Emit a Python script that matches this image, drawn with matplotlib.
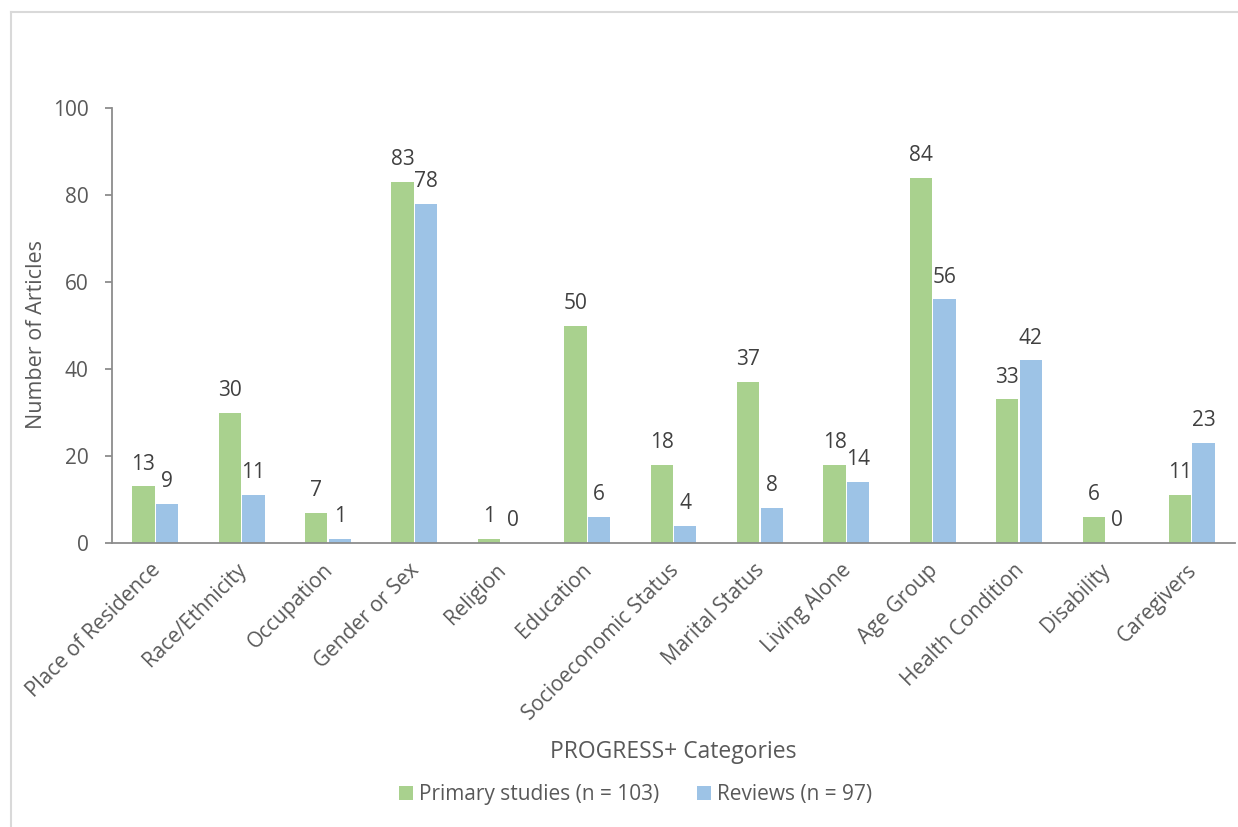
import matplotlib
matplotlib.use("Agg")
import matplotlib.pyplot as plt
import matplotlib.transforms as mtransforms
import numpy as np
from matplotlib.lines import Line2D
from matplotlib.patches import Patch

plt.rcParams['font.family'] = ['Open Sans', 'DejaVu Sans']

categories = ["Place of Residence", "Race/Ethnicity", "Occupation", "Gender or Sex",
              "Religion", "Education", "Socioeconomic Status", "Marital Status",
              "Living Alone", "Age Group", "Health Condition", "Disability", "Caregivers"]
primary = [13, 30, 7, 83, 1, 50, 18, 37, 18, 84, 33, 6, 11]
reviews = [9, 11, 1, 78, 0, 6, 4, 8, 14, 56, 42, 0, 23]
yticks = [0, 20, 40, 60, 80, 100]

green = "#A9D18E"
blue = "#9DC3E6"
axis_col = "#8C8C8C"
text_col = "#595959"
label_col = "#404040"
fs = 15

fig = plt.figure(figsize=(12.38, 8.27), dpi=100)
ax = fig.add_axes([0.0905, 0.3434, 0.9071, 0.526])

x = np.arange(len(categories))
w = 0.258
off = 0.136
b1 = ax.bar(x - off, primary, width=w, color=green, zorder=2)
b2 = ax.bar(x + off, reviews, width=w, color=blue, zorder=2)

for bars, vals in ((b1, primary), (b2, reviews)):
    for r, v in zip(bars, vals):
        ax.annotate(str(v), (r.get_x() + r.get_width() / 2, v),
                    xytext=(0, 8.5), textcoords="offset points",
                    ha="center", va="bottom", fontsize=fs, color=label_col)

ax.set_xlim(-0.5, len(categories) - 0.5)
ax.set_ylim(0, 100)
ax.set_yticks(yticks)
ax.set_yticklabels([str(t) for t in yticks])
ax.set_xticks(x)
ax.set_xticklabels(categories, rotation=45, ha="right", va="top",
                   rotation_mode="anchor")

for s in ("top", "right"):
    ax.spines[s].set_visible(False)
for s in ("left", "bottom"):
    ax.spines[s].set_color(axis_col)
    ax.spines[s].set_linewidth(1.3)
ax.spines["bottom"].set_zorder(3)

ax.tick_params(axis="y", length=5, width=1.3, color=axis_col, labelsize=fs,
               labelcolor=text_col, pad=12)
ax.tick_params(axis="x", length=0, labelsize=fs, labelcolor=text_col, pad=12)
shift = mtransforms.ScaledTranslation(-4 / 72, 0, fig.dpi_scale_trans)
for lbl in ax.get_xticklabels():
    lbl.set_transform(lbl.get_transform() + shift)

ax.set_ylabel("Number of Articles", fontsize=fs + 0.5, color=text_col)
ax.yaxis.set_label_coords(-0.0583, 0.48)
fig.text(0.5436, 0.0905, "PROGRESS+ Categories", ha="center", va="center",
         fontsize=fs + 1.5, color=text_col)

handles = [Patch(facecolor=green, label="Primary studies (n = 103)"),
           Patch(facecolor=blue, label="Reviews (n = 97)")]
fig.legend(handles=handles, loc="center", bbox_to_anchor=(0.5135, 0.039),
           ncol=2, frameon=False, fontsize=fs, labelcolor=text_col,
           handlelength=0.65, handleheight=0.65, handletextpad=0.3,
           columnspacing=1.8)

# outer chart frame (top and left edges visible)
fig.add_artist(Line2D([11 / 1238, 1.0], [1 - 12 / 827, 1 - 12 / 827],
                      transform=fig.transFigure, color="#D9D9D9", lw=1.5))
fig.add_artist(Line2D([11 / 1238, 11 / 1238], [0.0, 1 - 12 / 827],
                      transform=fig.transFigure, color="#D9D9D9", lw=1.5))

fig.savefig("out.png", dpi=100, facecolor="white")
